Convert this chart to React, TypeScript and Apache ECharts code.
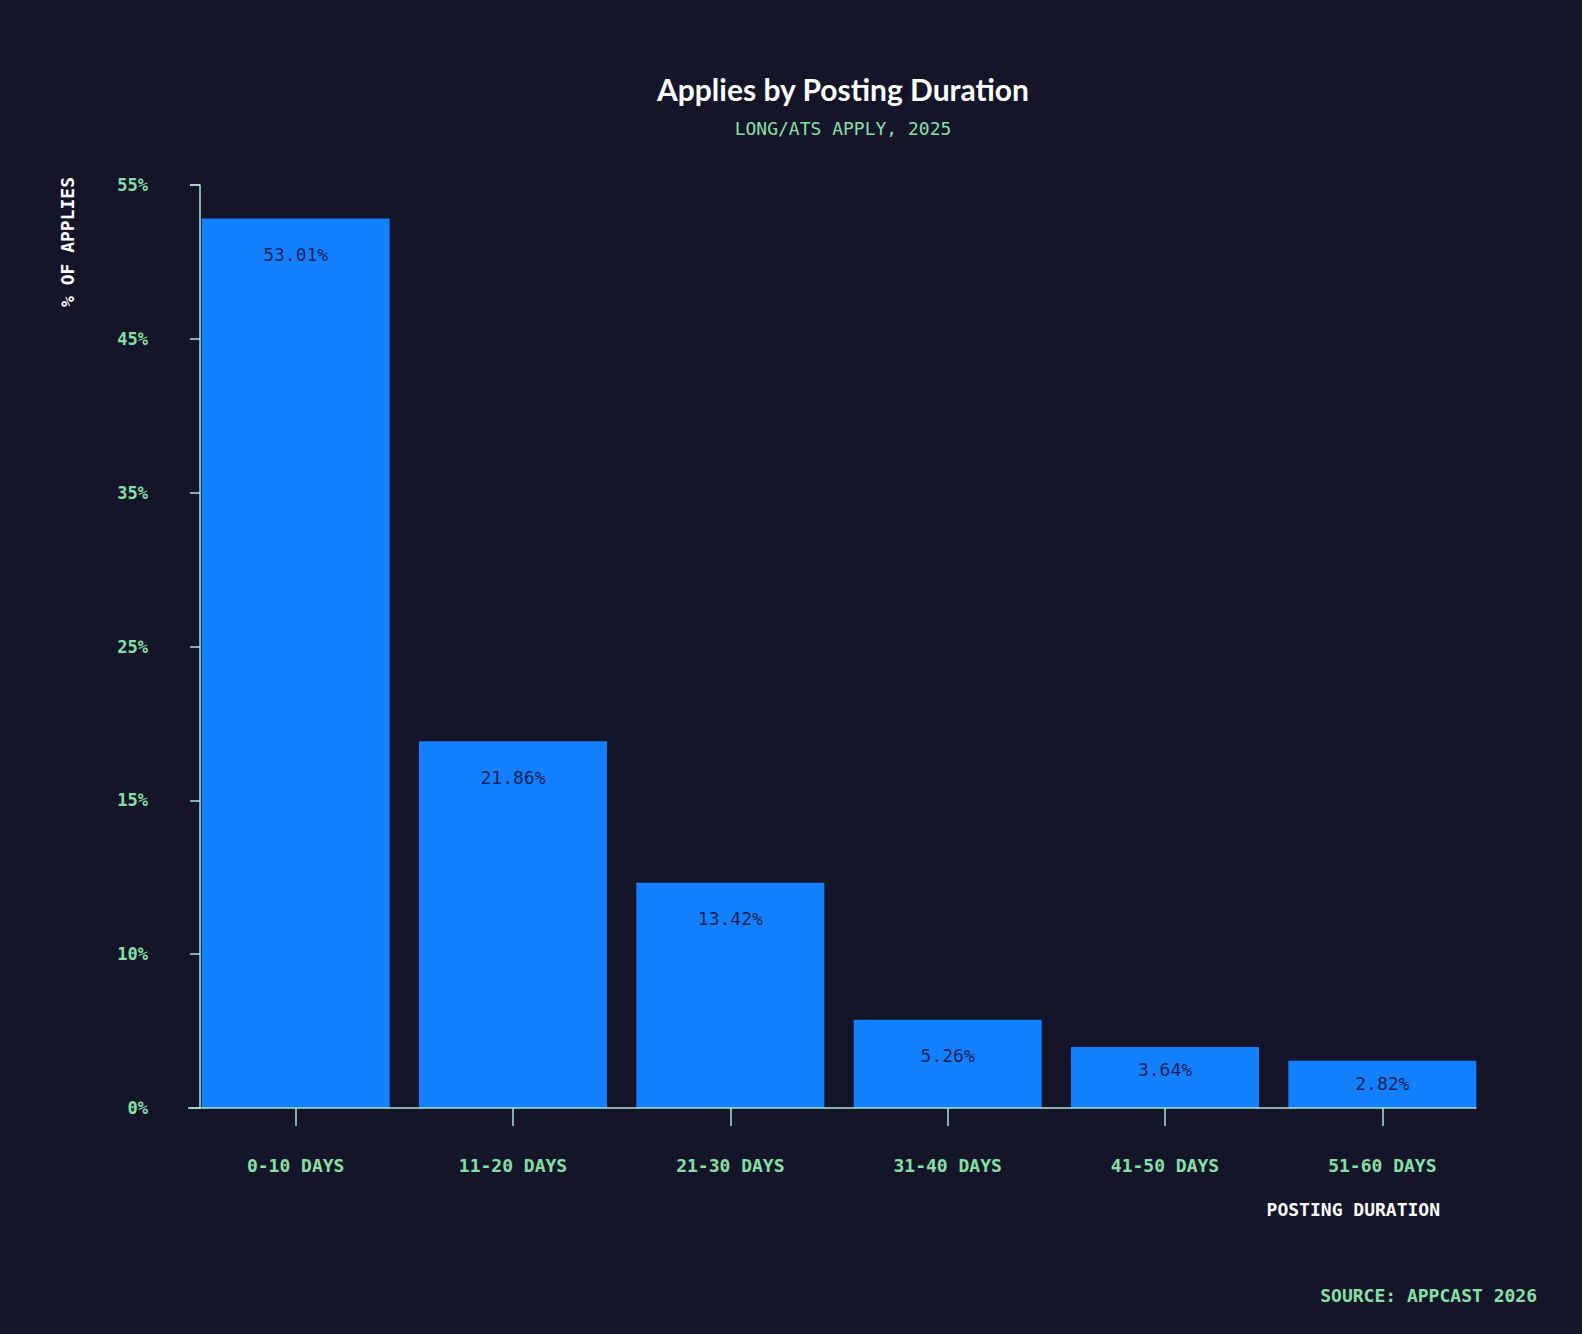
import React, { useEffect, useRef } from "react";
import * as echarts from "echarts";

const categories = ["0-10 DAYS", "11-20 DAYS", "21-30 DAYS", "31-40 DAYS", "41-50 DAYS", "51-60 DAYS"];
const values = [53.01, 21.86, 13.42, 5.26, 3.64, 2.82];
const yTickLabels = ["0%", "10%", "15%", "25%", "35%", "45%", "55%"];
const yMax = 55;

const W = 1582;
const H = 1334;
const BG = "#15152a";
const BAR = "#1280ff";
const GREEN = "#86e0a6";
const AXIS = "#a6e6d2";
const MONO = "'DejaVu Sans Mono', 'Liberation Mono', monospace";

const gridLeft = 187;
const gridRight = 91;
const gridTop = 185;
const gridBottom = 226;
const bandW = (W - gridLeft - gridRight) / categories.length;
const barW = 188;

export default function App() {
  const ref = useRef<HTMLDivElement>(null);
  useEffect(() => {
    document.body.style.margin = "0";
    document.body.style.background = BG;
    const chart = echarts.init(ref.current!, null, { renderer: "svg" });
    const baseY = H - gridBottom;
    const lineEnd = gridLeft + bandW * (categories.length - 0.5) + barW / 2;
    chart.setOption({
      animation: false,
      backgroundColor: BG,
      grid: { left: gridLeft, right: gridRight, top: gridTop, bottom: gridBottom },
      xAxis: {
        type: "category",
        data: categories,
        axisLine: { show: false },
        axisTick: { show: true, alignWithLabel: true, length: 18, lineStyle: { color: AXIS, width: 1.5 } },
        axisLabel: { color: GREEN, fontFamily: MONO, fontSize: 18, fontWeight: "bold", margin: 48 },
      },
      yAxis: {
        type: "value",
        min: 0,
        max: yMax,
        interval: yMax / 6,
        offset: -13,
        splitLine: { show: false },
        axisLine: { show: true, lineStyle: { color: AXIS, width: 1.5 } },
        axisTick: { show: true, length: 10, lineStyle: { color: AXIS, width: 1.5 } },
        axisLabel: {
          color: GREEN,
          fontFamily: MONO,
          fontSize: 17,
          fontWeight: "bold",
          margin: 52,
          verticalAlign: "middle",
          padding: [4, 0, 0, 0],
          formatter: (_v: number, i: number) => yTickLabels[i] ?? "",
        },
      },
      series: [
        {
          type: "bar",
          data: values.map((v) => ({ value: v, label: { distance: v < 5 ? 14 : 27 } })),
          barWidth: barW,
          itemStyle: { color: BAR },
          label: {
            show: true,
            position: "insideTop",
            distance: 27,
            color: "#0d1f57",
            fontFamily: MONO,
            fontSize: 18,
            formatter: (p: any) => Number(p.value).toFixed(2) + "%",
          },
        },
      ],
      graphic: [
        {
          type: "line",
          shape: { x1: gridLeft + 1, y1: baseY, x2: lineEnd, y2: baseY },
          style: { stroke: AXIS, lineWidth: 1.5 },
          z: 10,
        },
        {
          type: "text",
          x: 843,
          y: 89,
          style: {
            text: "Applies by Posting Duration",
            fill: "#ffffff",
            font: "bold 30px Lato, Inter, sans-serif",
            textAlign: "center",
            textVerticalAlign: "middle",
          },
        },
        {
          type: "text",
          x: 843,
          y: 128,
          style: {
            text: "LONG/ATS APPLY, 2025",
            fill: GREEN,
            font: `18px ${MONO}`,
            textAlign: "center",
            textVerticalAlign: "middle",
          },
        },
        {
          type: "text",
          x: 67,
          y: 242,
          rotation: Math.PI / 2,
          style: {
            text: "% OF APPLIES",
            fill: "#ffffff",
            font: `bold 18px ${MONO}`,
            textAlign: "center",
            textVerticalAlign: "middle",
          },
        },
        {
          type: "text",
          x: 1440,
          y: 1209,
          style: {
            text: "POSTING DURATION",
            fill: "#ffffff",
            font: `bold 18px ${MONO}`,
            textAlign: "right",
            textVerticalAlign: "middle",
          },
        },
        {
          type: "text",
          x: 1537,
          y: 1295,
          style: {
            text: "SOURCE: APPCAST 2026",
            fill: GREEN,
            font: `bold 18px ${MONO}`,
            textAlign: "right",
            textVerticalAlign: "middle",
          },
        },
      ],
    });
    return () => chart.dispose();
  }, []);
  return <div ref={ref} style={{ width: W, height: H }} />;
}
